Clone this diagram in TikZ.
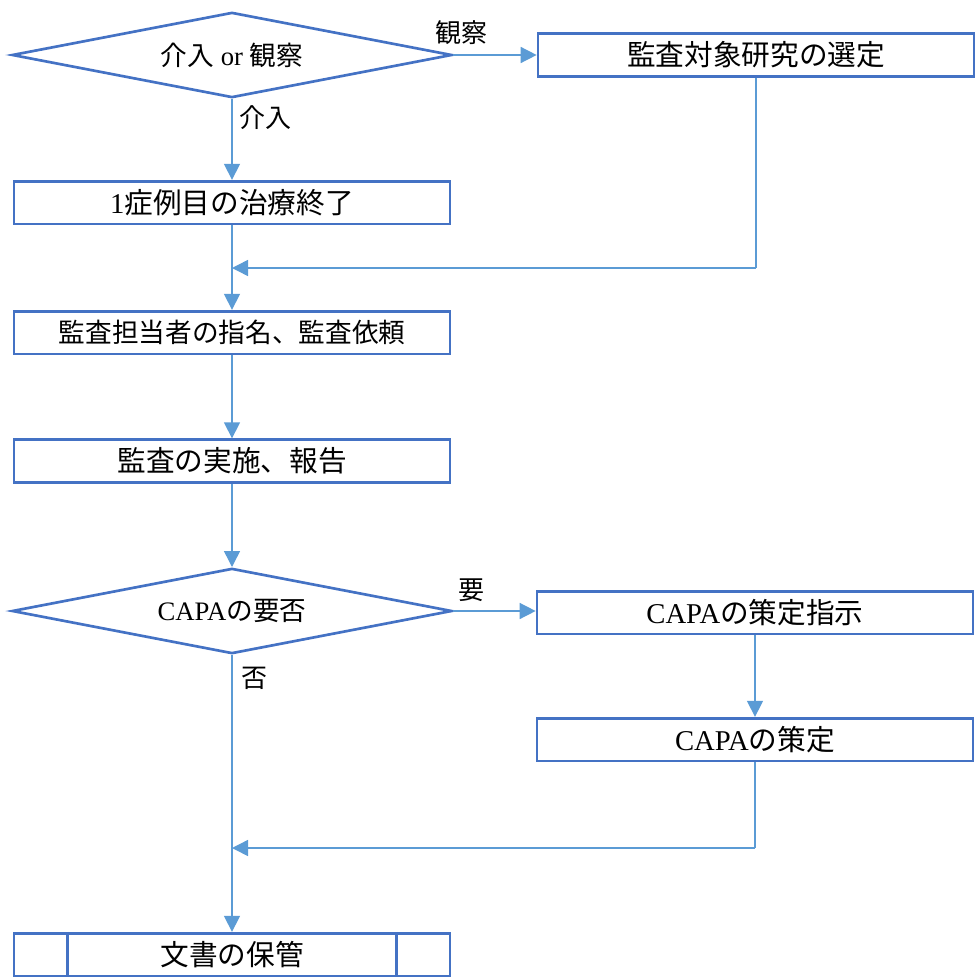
\documentclass[tikz,border=0pt]{standalone}
\usepackage{fontspec}
\setmainfont{Liberation Serif}
\newfontfamily\jp{Noto Sans CJK JP}
\usepackage{tikz}
\usetikzlibrary{shapes.geometric,arrows.meta}
\definecolor{boxblue}{HTML}{4472C4}
\definecolor{lineblue}{HTML}{5B9BD5}

\begin{document}
\begin{tikzpicture}[x=0.75pt,y=-0.75pt,
	box/.style={shape=rectangle,draw=boxblue,line width=2pt,minimum width=327pt,minimum height=32pt,inner sep=0pt,font=\fontsize{21.5}{24}\selectfont},
	choice/.style={shape=diamond,draw=boxblue,line width=2pt,aspect=5,minimum width=330pt,minimum height=64pt,inner sep=0pt,font=\fontsize{20}{24}\selectfont},
	lbl/.style={inner sep=0pt,font=\fontsize{19.5}{23}\selectfont},
	every edge/.style={draw=lineblue,line width=1.1pt},
	>={Triangle[length=12pt,width=12pt]}]
	\useasboundingbox (0,0) rectangle (974,977);

	\node[choice] (dec1) at (232,55) {{\jp 介入} or {\jp 観察}};
	\node[box] (sel) at (756,55) {\jp 監査対象研究の選定};
	\node[box] (treat) at (232,202.5) {1{\jp 症例目の治療終了}};
	\node[box,font=\fontsize{20}{24}\selectfont] (assign) at (232,332.5) {\jp 監査担当者の指名、監査依頼};
	\node[box] (audit) at (232,461) {\jp 監査の実施、報告};
	\node[choice] (dec2) at (232,611) {CAPA{\jp の要否}};
	\node[box] (inst) at (755,612.5) {CAPA{\jp の策定指示}};
	\node[box] (capa) at (755,739.5) {CAPA{\jp の策定}};
	\node[box] (keep) at (232,954.5) {\jp 文書の保管};
	\draw[boxblue,line width=2pt] ([xshift=41pt]keep.north west) -- ([xshift=41pt]keep.south west);
	\draw[boxblue,line width=2pt] ([xshift=-41pt]keep.north east) -- ([xshift=-41pt]keep.south east);

	\node[lbl] (obs) at (461,33) {\jp 観察};
	\node[lbl] (int) at (265,118) {\jp 介入};
	\node[lbl] (need) at (471,590) {\jp 要};
	\node[lbl] (noneed) at (254,678) {\jp 否};

	\coordinate (c1) at (756,268);
	\coordinate (j1) at (232,268);
	\coordinate (c2) at (755,848);
	\coordinate (j2) at (232,848);

	\path [->] (dec1.east) edge (sel.west |- dec1.east);
	\path [->] (dec1) edge (treat);
	\path [->] (treat) edge (assign);
	\path [-] (sel.south) edge (c1);
	\path [->] (c1) edge (j1);
	\path [->] (assign) edge (audit);
	\path [->] (audit) edge (dec2);
	\path [->] (dec2.east) edge (inst.west |- dec2.east);
	\path [->] (inst) edge (capa);
	\path [-] (capa.south) edge (c2);
	\path [->] (c2) edge (j2);
	\path [->] (dec2) edge (keep);
\end{tikzpicture}
\end{document}
